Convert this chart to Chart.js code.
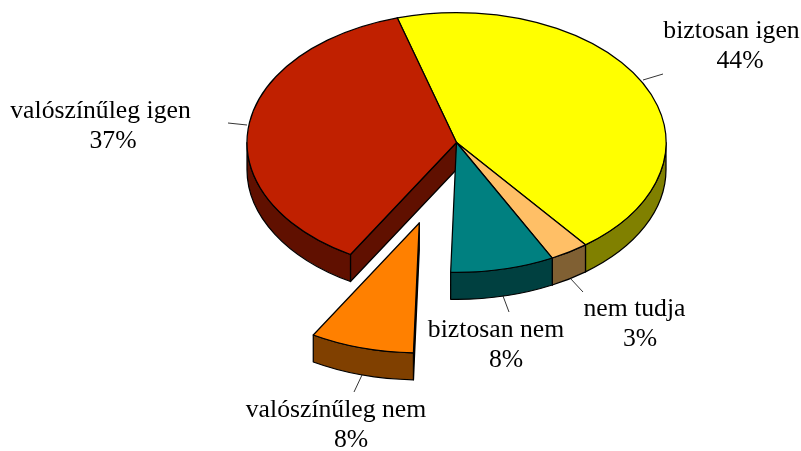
<!DOCTYPE html>
<html>
<head>
<meta charset="utf-8">
<style>html,body{margin:0;padding:0;background:#fff}canvas{display:block}</style>
<script src="https://cdn.jsdelivr.net/npm/chart.js@4"></script>
</head>
<body>
<canvas id="c" width="801" height="451"></canvas>
<script>
const categories = ['biztosan igen', 'nem tudja', 'biztosan nem', 'valószínűleg nem', 'valószínűleg igen'];
const values = [44, 3, 8, 8, 37];
const percentLabels = ['44%', '3%', '8%', '8%', '37%'];
const topColors = ['#FFFF00', '#FFBF66', '#008080', '#FF8000', '#C02000'];
const sideColors = ['#808000', '#806033', '#004040', '#804000', '#601000'];
const explode = [0, 0, 0, 135, 0];

// layout
const ROTATION = -16.4, TILT = 0.62, DEPTH = 27, CENTER_Y = 142.5;
const FONT = '25.7px "Liberation Serif"';
const labelPos = [[731.5, 38], [634.5, 316], [496, 337], [336, 417], [100.5, 118]];
const percentPos = [[740, 68], [640, 346], [506, 367], [351, 447], [113, 148]];
const leaders = [
  [643, 80, 663, 74], [570, 278, 583, 292], [503, 296, 509, 312],
  [362, 375, 354, 392], [247, 125, 228, 123]
];

const pie3d = {
  id: 'pie3d',
  beforeDatasetsDraw(chart) {
    const ctx = chart.ctx;
    const arcs = chart.getDatasetMeta(0).data;
    const geo = arcs.map((a, i) => {
      const p = a.getProps(['x', 'y', 'startAngle', 'endAngle', 'outerRadius'], true);
      const mid = (p.startAngle + p.endAngle) / 2;
      return {
        arc: a, s: p.startAngle, e: p.endAngle, r: p.outerRadius, ry: p.outerRadius * TILT, srcY: p.y,
        cx: p.x + Math.cos(mid) * explode[i],
        cy: CENTER_Y + Math.sin(mid) * explode[i] * TILT
      };
    });
    ctx.save();
    ctx.lineWidth = 1.25;
    ctx.lineJoin = 'round';
    ctx.strokeStyle = '#000';
    const shape = (fill, build) => {
      ctx.beginPath(); build(); ctx.closePath();
      ctx.fillStyle = fill; ctx.fill(); ctx.stroke();
    };
    // cut faces
    geo.forEach((g, i) => {
      [[g.s, Math.cos(g.s) < 0], [g.e, Math.cos(g.e) > 0]].forEach(([a, vis]) => {
        if (!vis) return;
        const px = g.cx + Math.cos(a) * g.r, py = g.cy + Math.sin(a) * g.ry;
        shape(sideColors[i], () => {
          ctx.moveTo(g.cx, g.cy); ctx.lineTo(px, py);
          ctx.lineTo(px, py + DEPTH); ctx.lineTo(g.cx, g.cy + DEPTH);
        });
      });
    });
    // rims
    geo.forEach((g, i) => {
      for (let k = -1; k <= 1; k++) {
        const a0 = Math.max(g.s, 2 * Math.PI * k), a1 = Math.min(g.e, Math.PI + 2 * Math.PI * k);
        if (a1 <= a0) continue;
        shape(sideColors[i], () => {
          ctx.ellipse(g.cx, g.cy, g.r, g.ry, 0, a0, a1);
          ctx.ellipse(g.cx, g.cy + DEPTH, g.r, g.ry, 0, a1, a0, true);
        });
      }
    });
    // tops: filled by the library's arc element, flattened
    geo.forEach(g => {
      ctx.save();
      ctx.translate(g.cx - g.arc.x, g.cy);
      ctx.scale(1, TILT);
      ctx.translate(0, -g.srcY);
      g.arc.draw(ctx);
      ctx.restore();
      ctx.beginPath();
      ctx.moveTo(g.cx, g.cy);
      ctx.ellipse(g.cx, g.cy, g.r, g.ry, 0, g.s, g.e);
      ctx.closePath();
      ctx.stroke();
    });
    ctx.restore();
    return false;
  },
  afterDraw(chart) {
    const ctx = chart.ctx;
    ctx.save();
    ctx.strokeStyle = '#000';
    ctx.lineWidth = 0.8;
    leaders.forEach(l => {
      ctx.beginPath(); ctx.moveTo(l[0], l[1]); ctx.lineTo(l[2], l[3]); ctx.stroke();
    });
    ctx.fillStyle = '#000';
    ctx.font = FONT;
    ctx.textAlign = 'center';
    ctx.textBaseline = 'alphabetic';
    categories.forEach((c, i) => {
      ctx.fillText(c, labelPos[i][0], labelPos[i][1]);
      ctx.fillText(percentLabels[i], percentPos[i][0], percentPos[i][1]);
    });
    ctx.restore();
  }
};

new Chart(document.getElementById('c'), {
  type: 'pie',
  data: {
    labels: categories,
    datasets: [{ data: values, backgroundColor: topColors, borderWidth: 0 }]
  },
  options: {
    responsive: false,
    animation: false,
    devicePixelRatio: 1,
    rotation: ROTATION,
    layout: { padding: { left: 247, right: 135, top: 15, bottom: 16 } },
    plugins: { legend: { display: false }, tooltip: { enabled: false } },
    events: []
  },
  plugins: [pie3d]
});
</script>
</body>
</html>
